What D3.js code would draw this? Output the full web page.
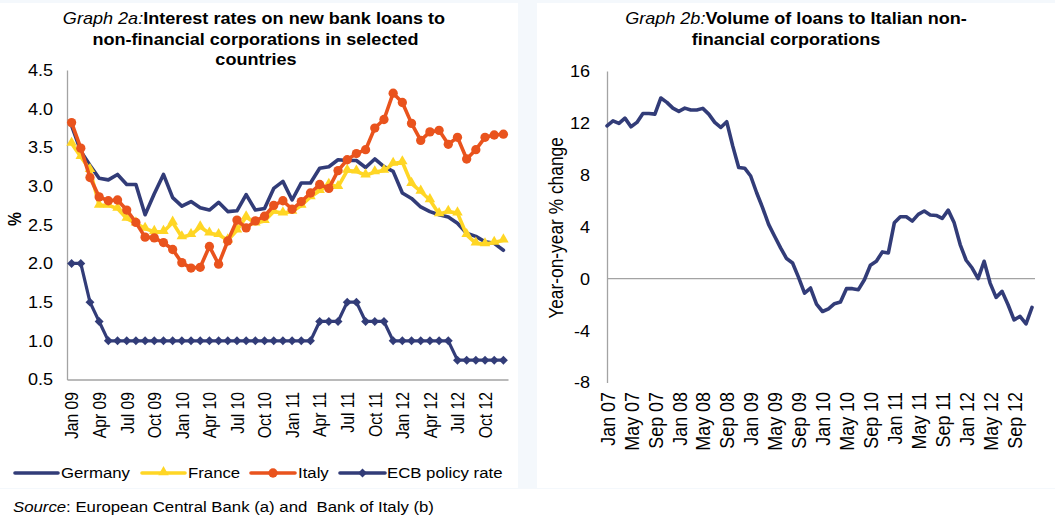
<!DOCTYPE html>
<html>
<head>
<meta charset="utf-8">
<script src="https://cdn.jsdelivr.net/npm/d3@7"></script>
<style>
  html, body { margin: 0; padding: 0; background: #fff; }
  svg { display: block; }
  text { white-space: pre; }
</style>
</head>
<body>
<svg id="chart" width="1055" height="522"></svg>
<script>
// ---------- data ----------
const MONTHS = ["Jan","Feb","Mar","Apr","May","Jun","Jul","Aug","Sep","Oct","Nov","Dec"];

// Graph 2a: interest rates on new bank loans (%), Jan 2009 - Dec 2012
const rateMonths = ["09","10","11","12"].flatMap(y => MONTHS.map(m => `${m} ${y}`));
const rateTickLabels = ["Jan 09","Apr 09","Jul 09","Oct 09","Jan 10","Apr 10","Jul 10","Oct 10",
                        "Jan 11","Apr 11","Jul 11","Oct 11","Jan 12","Apr 12","Jul 12","Oct 12"];
const rateTickValues = [0.5, 1.0, 1.5, 2.0, 2.5, 3.0, 3.5, 4.0, 4.5];

const germany = [3.78,3.45,3.27,3.10,3.08,3.15,3.02,3.02,2.63,2.90,
                 3.15,2.85,2.74,2.80,2.72,2.69,2.79,2.67,2.68,2.89,
                 2.69,2.71,2.97,3.06,2.82,3.04,3.04,3.23,3.25,3.34,
                 3.33,3.33,3.24,3.35,3.25,3.19,2.91,2.84,2.73,2.67,
                 2.63,2.60,2.52,2.39,2.35,2.28,2.26,2.17];
const france  = [3.55,3.38,3.21,2.75,2.75,2.71,2.58,2.52,2.45,2.41,
                 2.41,2.53,2.34,2.37,2.47,2.39,2.37,2.30,2.43,2.60,
                 2.52,2.55,2.67,2.65,2.67,2.75,2.86,2.94,3.02,2.99,
                 3.20,3.19,3.14,3.18,3.20,3.29,3.31,3.03,2.93,2.82,
                 2.64,2.67,2.65,2.37,2.26,2.25,2.27,2.30];
const italy   = [3.82,3.49,3.11,2.86,2.81,2.82,2.69,2.53,2.34,2.33,
                 2.27,2.18,2.01,1.94,1.95,2.22,1.99,2.29,2.56,2.46,
                 2.55,2.61,2.75,2.81,2.70,2.80,2.91,3.02,2.97,3.20,
                 3.34,3.42,3.47,3.75,3.86,4.20,4.08,3.81,3.59,3.70,
                 3.72,3.54,3.63,3.35,3.47,3.63,3.66,3.67];
const ecbRate = [2.00,2.00,1.50,1.25,1.00,1.00,1.00,1.00,1.00,1.00,
                 1.00,1.00,1.00,1.00,1.00,1.00,1.00,1.00,1.00,1.00,
                 1.00,1.00,1.00,1.00,1.00,1.00,1.00,1.25,1.25,1.25,
                 1.50,1.50,1.25,1.25,1.25,1.00,1.00,1.00,1.00,1.00,
                 1.00,1.00,0.75,0.75,0.75,0.75,0.75,0.75];

// Graph 2b: loans to Italian non-financial corporations, y/y % change, Jan 2007 - Dec 2012
const loanMonths = ["07","08","09","10","11","12"].flatMap(y => MONTHS.map(m => `${m} ${y}`));
const loanTickLabels = ["Jan 07","May 07","Sep 07","Jan 08","May 08","Sep 08","Jan 09","May 09","Sep 09",
                        "Jan 10","May 10","Sep 10","Jan 11","May 11","Sep 11","Jan 12","May 12","Sep 12"];
const loanTickValues = [-8, -4, 0, 4, 8, 12, 16];
const loanGrowth = [11.78,12.16,11.96,12.37,11.70,12.04,12.73,12.73,12.68,13.92,
                    13.58,13.14,12.89,13.14,12.99,12.99,13.12,12.68,12.04,11.65,
                    12.09,10.23, 8.56, 8.51, 7.91, 6.62, 5.46, 4.18, 3.27, 2.37,
                     1.55, 1.21, 0.10,-1.11,-0.72,-1.96,-2.53,-2.32,-1.93,-1.80,
                    -0.77,-0.77,-0.85,-0.08, 1.03, 1.34, 2.06, 1.98, 4.30, 4.77,
                     4.77, 4.43, 4.95, 5.21, 4.90, 4.87, 4.64, 5.28, 4.30, 2.63,
                     1.42, 0.82, 0.00, 1.34,-0.34,-1.44,-0.98,-2.01,-3.17,-2.91,
                    -3.48,-2.22];

// ---------- style ----------
const FONT = "'Liberation Sans', Arial, Helvetica, sans-serif";
const SX = 1.29, SY = 1.12;          // the report sets its type wide
const NAVY = "#323c78", YELLOW = "#ffd625", ORANGE = "#e9531d", AXIS = "#a3a3a3";

const svg = d3.select("#chart");

// page and panels
svg.append("rect").attr("x", 0).attr("y", 0).attr("width", 1055).attr("height", 489).attr("fill", "#f4f8fc");
svg.append("rect").attr("x", 0).attr("y", 3).attr("width", 518).attr("height", 485).attr("fill", "#fff");
svg.append("rect").attr("x", 537).attr("y", 3).attr("width", 518).attr("height", 485).attr("fill", "#fff");

// text helper: parts = [[string, {weight, style}], ...]
function label(x, y, parts, opt = {}) {
  const rot = opt.rotate || 0;
  const g = svg.append("g")
    .attr("transform", `translate(${x},${y}) rotate(${rot}) scale(${rot ? SY : SX},${rot ? SX : SY})`);
  const t = g.append("text")
    .attr("font-family", FONT)
    .attr("font-size", opt.size || 14)
    .attr("text-anchor", opt.anchor || "start")
    .attr("dy", opt.dy || 0)
    .attr("fill", "#000");
  if (typeof parts === "string") parts = [[parts, {}]];
  parts.forEach(([s, st]) => {
    t.append("tspan")
      .attr("font-weight", st.weight || "normal")
      .attr("font-style", st.style || "normal")
      .text(s);
  });
  return t;
}

function styleYAxis(g, offset) {
  g.attr("font-family", FONT).attr("font-size", 14);
  g.select(".domain").attr("stroke", AXIS).attr("stroke-width", 1.3);
  g.selectAll(".tick line").remove();
  g.selectAll(".tick text")
    .attr("fill", "#000")
    .attr("x", -offset / SX)
    .attr("dy", "0.35em")
    .attr("transform", `scale(${SX},${SY})`);
}
function styleXAxis(g, offset, size) {
  g.attr("font-family", FONT).attr("font-size", size);
  g.select(".domain").attr("stroke", AXIS).attr("stroke-width", 1.3);
  g.selectAll(".tick line").remove();
  g.selectAll(".tick text")
    .attr("fill", "#000")
    .attr("text-anchor", "end")
    .attr("y", 0)
    .attr("x", -offset / SY)
    .attr("dy", "0.35em")
    .attr("transform", `rotate(-90) scale(${SY},${SX})`);
}

// ================= Graph 2a =================
const xL = d3.scalePoint().domain(rateMonths).range([67, 508]).padding(0.5);
const yL = d3.scaleLinear().domain([0.5, 4.5]).range([379.5, 70]);

label(254, 24, [["Graph 2a:", {style: "italic"}], ["Interest rates on new bank loans to", {weight: "bold"}]], {anchor: "middle"});
label(255.5, 44.5, [["non-financial corporations in selected", {weight: "bold"}]], {anchor: "middle"});
label(256, 64.5, [["countries", {weight: "bold"}]], {anchor: "middle"});

svg.append("g").attr("transform", `translate(67,0)`)
  .call(d3.axisLeft(yL).tickValues(rateTickValues).tickSize(0).tickSizeOuter(0).tickFormat(d3.format(".1f")))
  .call(g => styleYAxis(g, 14));
svg.append("g").attr("transform", `translate(0,${yL(0.5)})`)
  .call(d3.axisBottom(xL).tickValues(rateTickLabels).tickSize(0).tickSizeOuter(0))
  .call(g => styleXAxis(g, 12.5, 14));

label(15, 219, [["%", {weight: "bold"}]], {rotate: -90, anchor: "middle", dy: "0.35em"});

const lineL = d3.line().x((d, i) => xL(rateMonths[i])).y(d => yL(d));
const seriesL = [
  {name: "Germany", values: germany, color: NAVY, width: 3.6, marker: null},
  {name: "France", values: france, color: YELLOW, width: 3.6, marker: "triangle"},
  {name: "Italy", values: italy, color: ORANGE, width: 3.6, marker: "circle"},
  {name: "ECB policy rate", values: ecbRate, color: NAVY, width: 3.2, marker: "diamond"}
];
const symbolFor = {
  triangle: d3.symbol().type(d3.symbolTriangle).size(48),
  diamond: d3.symbol().type(d3.symbolSquare).size(40),
  circle: d3.symbol().type(d3.symbolCircle).size(68)
};
function drawMarker(sel, kind, color) {
  sel.append("path")
    .attr("d", symbolFor[kind]())
    .attr("fill", color)
    .attr("transform", kind === "diamond" ? "rotate(45)" : (kind === "triangle" ? "translate(0,-0.8)" : null));
}

seriesL.forEach(s => {
  const g = svg.append("g");
  g.append("path").datum(s.values)
    .attr("d", lineL).attr("fill", "none")
    .attr("stroke", s.color).attr("stroke-width", s.width)
    .attr("stroke-linejoin", "round").attr("stroke-linecap", "round");
  if (s.marker) {
    g.selectAll("g.m").data(s.values).join("g").attr("class", "m")
      .attr("transform", (d, i) => `translate(${xL(rateMonths[i])},${yL(d)})`)
      .each(function () { drawMarker(d3.select(this), s.marker, s.color); });
  }
});

// legend
const legendY = 473;
const legendItems = [
  {s: seriesL[0], x0: 15, x1: 58, tx: 61},
  {s: seriesL[1], x0: 142, x1: 185, tx: 188},
  {s: seriesL[2], x0: 251, x1: 295, tx: 298},
  {s: seriesL[3], x0: 340, x1: 385, tx: 387}
];
legendItems.forEach(it => {
  svg.append("line").attr("x1", it.x0).attr("x2", it.x1).attr("y1", legendY).attr("y2", legendY)
    .attr("stroke", it.s.color).attr("stroke-width", 3.6).attr("stroke-linecap", "round");
  if (it.s.marker) {
    const mg = svg.append("g").attr("transform", `translate(${(it.x0 + it.x1) / 2},${legendY})`);
    drawMarker(mg, it.s.marker, it.s.color);
  }
  label(it.tx, legendY, it.s.name, {size: 13, dy: "0.36em"});
});

label(13, 512, [["Source", {style: "italic"}], [": European Central Bank (a) and  Bank of Italy (b)", {}]], {size: 13});

// ================= Graph 2b =================
const xR = d3.scalePoint().domain(loanMonths).range([607, 1032]);
const yR = d3.scaleLinear().domain([-8, 16]).range([382.5, 71]);

label(796, 24, [["Graph 2b:", {style: "italic"}], ["Volume of loans to Italian non-", {weight: "bold"}]], {anchor: "middle"});
label(786, 44.5, [["financial corporations", {weight: "bold"}]], {anchor: "middle"});

svg.append("g").attr("transform", `translate(607,0)`)
  .call(d3.axisLeft(yR).tickValues(loanTickValues).tickSize(0).tickSizeOuter(0).tickFormat(d => String(d)))
  .call(g => styleYAxis(g, 17));

svg.append("line")
  .attr("x1", xR.range()[0]).attr("x2", 1035)
  .attr("y1", yR(0)).attr("y2", yR(0))
  .attr("stroke", AXIS).attr("stroke-width", 1.3);

svg.append("g").attr("transform", `translate(0,${yR(-8)})`)
  .call(d3.axisBottom(xR).tickValues(loanTickLabels).tickSize(0).tickSizeOuter(0))
  .call(g => { styleXAxis(g, 9.5, 16); g.select(".domain").remove(); });

label(556, 228, "Year-on-year % change", {rotate: -90, anchor: "middle", dy: "0.35em", size: 15.5});

svg.append("path").datum(loanGrowth)
  .attr("d", d3.line().x((d, i) => xR(loanMonths[i])).y(d => yR(d)))
  .attr("fill", "none").attr("stroke", NAVY).attr("stroke-width", 3.6)
  .attr("stroke-linejoin", "round").attr("stroke-linecap", "round");
</script>
</body>
</html>
